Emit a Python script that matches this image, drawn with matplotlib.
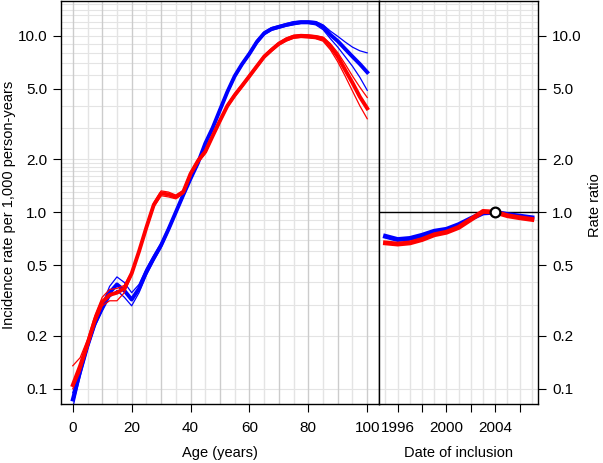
import matplotlib
matplotlib.use("Agg")
import matplotlib.pyplot as plt
import numpy as np

plt.rcParams['font.family'] = ['Liberation Sans', 'DejaVu Sans']
plt.rcParams['font.size'] = 10

# age-specific incidence rates per 1,000 person-years
age = np.arange(0, 100.1, 2.5)

blue_fit = [0.087, 0.125, 0.175, 0.235, 0.29, 0.35, 0.39, 0.36, 0.32, 0.37, 0.46, 0.55, 0.65, 0.80,
            1.0, 1.25, 1.55, 1.9, 2.45, 3.0, 3.8, 4.8, 5.9, 6.9, 7.9, 9.2, 10.3, 10.9, 11.2, 11.5,
            11.75, 11.9, 11.9, 11.8, 11.2, 10.1, 9.3, 8.4, 7.6, 6.9, 6.2]
blue_hi = [0.095, 0.13, 0.18, 0.24, 0.30, 0.38, 0.43, 0.40, 0.35, 0.39, 0.48, 0.57, 0.67, 0.82,
           1.02, 1.28, 1.58, 1.94, 2.5, 3.06, 3.88, 4.9, 6.0, 7.0, 8.05, 9.4, 10.5, 11.1, 11.4, 11.7,
           12.0, 12.1, 12.1, 12.0, 11.5, 10.6, 9.9, 9.2, 8.6, 8.2, 7.98]
blue_lo = [0.078, 0.118, 0.168, 0.225, 0.275, 0.33, 0.36, 0.33, 0.295, 0.35, 0.44, 0.53, 0.63, 0.78,
           0.98, 1.22, 1.52, 1.86, 2.4, 2.94, 3.72, 4.7, 5.78, 6.76, 7.74, 9.0, 10.1, 10.7, 11.0, 11.3,
           11.5, 11.7, 11.7, 11.5, 10.8, 9.6, 8.6, 7.6, 6.7, 5.8, 4.9]

red_fit = [0.105, 0.135, 0.18, 0.245, 0.31, 0.34, 0.35, 0.37, 0.45, 0.6, 0.82, 1.1, 1.28, 1.26,
           1.22, 1.30, 1.65, 1.95, 2.2, 2.7, 3.3, 4.0, 4.6, 5.2, 5.9, 6.7, 7.6, 8.3, 9.0, 9.5,
           9.85, 9.95, 9.9, 9.8, 9.6, 8.7, 7.6, 6.4, 5.4, 4.5, 3.87]
red_hi = [0.135, 0.15, 0.19, 0.26, 0.33, 0.365, 0.37, 0.385, 0.46, 0.61, 0.84, 1.13, 1.32, 1.30,
          1.25, 1.33, 1.68, 1.99, 2.25, 2.75, 3.37, 4.08, 4.7, 5.3, 6.0, 6.8, 7.75, 8.45, 9.15, 9.7,
          10.05, 10.15, 10.1, 10.0, 9.8, 9.0, 8.0, 6.9, 5.9, 5.1, 4.46]
red_lo = [0.10, 0.125, 0.17, 0.235, 0.295, 0.315, 0.315, 0.35, 0.44, 0.59, 0.80, 1.07, 1.24, 1.22,
          1.19, 1.27, 1.62, 1.91, 2.15, 2.65, 3.23, 3.92, 4.5, 5.1, 5.78, 6.57, 7.45, 8.13, 8.82, 9.3,
          9.65, 9.75, 9.7, 9.6, 9.3, 8.3, 7.1, 5.9, 4.85, 4.0, 3.38]

# rate ratio by date of inclusion, reference 2004
year = np.arange(1995, 2008)
blue_rr = [0.73, 0.70, 0.71, 0.74, 0.78, 0.80, 0.85, 0.92, 0.99, 1.00, 0.97, 0.95, 0.93]
red_rr = [0.67, 0.66, 0.67, 0.70, 0.745, 0.77, 0.82, 0.91, 1.01, 1.00, 0.955, 0.93, 0.91]
ref_year = 2004

y_ticks = [0.1, 0.2, 0.5, 1.0, 2.0, 5.0, 10.0]
y_ticklabels = ["0.1", "0.2", "0.5", "1.0", "2.0", "5.0", "10.0"]

# horizontal grid values (log scale)
h_grid = [0.1, 0.2, 0.3, 0.4, 0.5, 0.6, 0.7, 0.8, 0.9] + list(np.arange(1.0, 2.01, 0.1)) + \
         [3, 4, 5, 6, 7, 8, 9, 10, 11, 12, 13, 14, 15]

YLIM = (0.082, 15.8)
TICK_FS = 11
LAB_FS = 10.5
W, H = 603, 463


def draw_hgrid(ax):
    for v in h_grid:
        ax.axhline(v, color="#e4e4e4", lw=0.8, zorder=0)


def main():
    fig = plt.figure(figsize=(W / 100, H / 100), dpi=100)
    ax1 = fig.add_axes([61 / W, 59 / H, 318 / W, 403.5 / H])
    ax2 = fig.add_axes([379 / W, 59 / H, 159 / W, 403.5 / H])

    # ---- left panel: age
    ax1.set_yscale("log")
    ax1.set_xlim(-4, 104)
    ax1.set_ylim(*YLIM)
    draw_hgrid(ax1)
    for a in range(0, 101, 5):
        c = "#cccccc" if a % 10 == 0 else "#e4e4e4"
        ax1.axvline(a, color=c, lw=1.0, zorder=0)

    ax1.plot(age, blue_lo, color="#0000ff", lw=0.9)
    ax1.plot(age, blue_hi, color="#0000ff", lw=0.9)
    ax1.plot(age, blue_fit, color="#0000ff", lw=2.8)
    ax1.plot(age, red_lo, color="#ff0000", lw=0.9)
    ax1.plot(age, red_hi, color="#ff0000", lw=0.9)
    ax1.plot(age, red_fit, color="#ff0000", lw=2.8)

    ax1.set_yticks(y_ticks)
    ax1.set_yticklabels(y_ticklabels)
    ax1.yaxis.set_minor_locator(matplotlib.ticker.NullLocator())
    ax1.set_xticks([0, 20, 40, 60, 80, 100])
    ax1.tick_params(direction="out", length=6, width=0.8, labelsize=TICK_FS, pad=4)
    ax1.tick_params(axis="x", pad=6)
    ax1.set_xlabel("Age (years)", fontsize=LAB_FS, labelpad=8)

    # ---- right panel: date of inclusion
    ax2.set_yscale("log")
    ax2.set_xlim(1994.47, 2007.5)
    ax2.set_ylim(*YLIM)
    draw_hgrid(ax2)
    for y in range(1995, 2008):
        ax2.axvline(y, color="#e4e4e4", lw=1.0, zorder=0)
    ax2.axhline(1.0, color="black", lw=1.0, zorder=1)

    ax2.plot(year, blue_rr, color="#0000ff", lw=3.5, zorder=2)
    ax2.plot(year, red_rr, color="#ff0000", lw=3.5, zorder=3)
    ax2.plot([ref_year], [1.0], marker="o", ms=7, mfc="white", mec="black", mew=1.6, zorder=4)

    ax2.yaxis.tick_right()
    ax2.set_yticks(y_ticks)
    ax2.set_yticklabels(y_ticklabels)
    ax2.yaxis.set_minor_locator(matplotlib.ticker.NullLocator())
    ax2.set_xticks([1996, 1998, 2000, 2002, 2004, 2006])
    ax2.set_xticklabels(["1996", "", "2000", "", "2004", ""])
    ax2.tick_params(direction="out", length=6, width=0.8, labelsize=TICK_FS, pad=4)
    ax2.tick_params(axis="x", pad=6)
    ax2.set_xlabel("Date of inclusion", fontsize=LAB_FS, labelpad=8)

    fig.text(9 / W, 1 - 205 / H, "Incidence rate per 1,000 person-years", rotation=90,
             ha="center", va="center", fontsize=LAB_FS)
    fig.text(595 / W, 1 - 205 / H, "Rate ratio", rotation=90,
             ha="center", va="center", fontsize=LAB_FS)

    for ax in (ax1, ax2):
        for s in ax.spines.values():
            s.set_linewidth(1.0)

    fig.savefig("out.png", dpi=100)


if __name__ == "__main__":
    main()
